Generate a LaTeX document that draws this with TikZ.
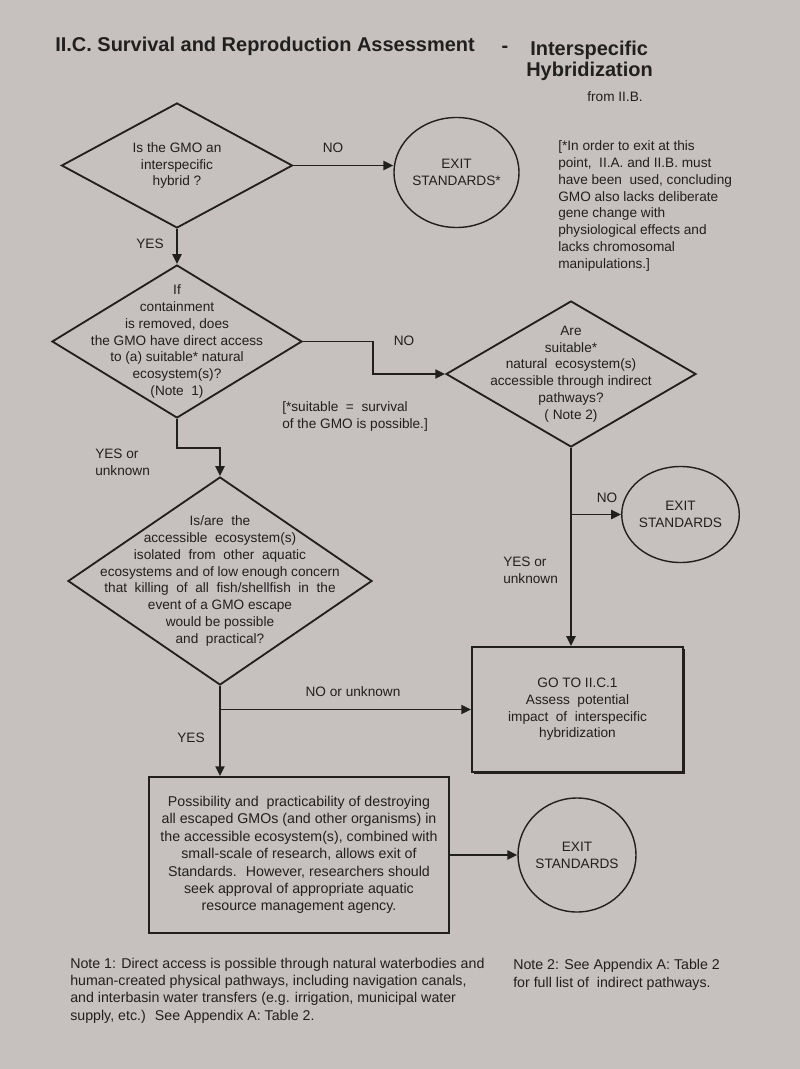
\documentclass[tikz,border=0pt]{standalone}
\usepackage{fontspec}
\setmainfont{Liberation Sans}
\usetikzlibrary{arrows.meta,shapes.geometric,shadows}

\definecolor{paper}{RGB}{198,193,191}
\definecolor{ink}{RGB}{34,31,31}

\begin{document}
\begin{tikzpicture}[
    x=0.025cm, y=-0.025cm,
    >={Triangle[length=7pt,width=6.5pt]},
    every node/.style={font=\fontsize{9.7}{11.9}\selectfont, text=ink},
    % title line
    title/.style={font=\fontsize{14.2}{17}\selectfont\bfseries, inner sep=0pt},
    % decision diamond (outline only)
    ask/.style={
        draw=ink, shape=diamond, line width=1.3pt, inner sep=0pt
    },
    % text inside a diamond
    asktext/.style={align=center, inner sep=0pt},
    % exit bubble
    exitnode/.style={
        draw=ink, shape=ellipse, line width=1pt, align=center, inner sep=0pt
    },
    % action box
    act/.style={
        draw=ink, line width=1.3pt, align=center, fill=paper, inner sep=0pt
    },
    % yes / no labels and side notes
    tag/.style={inner sep=0pt},
    remark/.style={align=left, inner sep=0pt, anchor=west},
    wide/.style={font=\fontsize{10.1}{12.4}\selectfont},
    % connectors
    flow/.style={->, draw=ink, line width=1.3pt},
]
\def\px{0.025cm}

%% -- page -------------------------------------------------
\path[use as bounding box, fill=paper] (0,0) rectangle (800,1069);

%% -- title ------------------------------------------------
\node[title, anchor=base west] (ttl) at (55,52) {II.C. Survival and Reproduction Assessment};
\node[title] (dash) at (505,49) {-};
\node[title, anchor=base west] (sub1) at (530,56) {Interspecific};
\node[title, anchor=base west] (sub2) at (526,77) {Hybridization};
\node[tag] (from) at (615,97) {from II.B.};

%% -- first question ---------------------------------------
\node[ask, minimum width=231*\px, minimum height=125*\px] (d1) at (177,165.5) {};
\node[asktext] (d1t) at (d1.center) {Is the GMO an\\interspecific\\hybrid ?};

\node[exitnode, minimum width=114*\px, minimum height=110*\px] (c1) at (456.5,172.5)
    {EXIT\\STANDARDS*};

\node[remark] (n1) at (558,206)
    {[*In order to exit at this\\point, \ II.A. and II.B. must\\have been \ used, concluding\\GMO also lacks deliberate\\gene change with\\physiological effects and\\lacks chromosomal\\manipulations.]};

%% -- direct access ----------------------------------------
\node[ask, minimum width=250*\px, minimum height=153*\px] (d2) at (177,341.5) {};
\node[asktext] (d2t) at (d2.center)
    {If\\containment\\is removed, does\\the GMO have direct access\\to (a) suitable* natural\\ecosystem(s)?\\(Note \ 1)};

\node[remark] (n2) at (282,416.5) {[*suitable \ = \ survival\\of the GMO is possible.]};

%% -- indirect access --------------------------------------
\node[ask, minimum width=250*\px, minimum height=146*\px] (d3) at (571,374) {};
\node[asktext] (d3t) at (d3.center)
    {Are\\suitable*\\natural \ ecosystem(s)\\accessible through indirect\\pathways?\\( Note 2)};

\node[exitnode, minimum width=105*\px, minimum height=96*\px] (c2) at (680.5,514.5)
    {EXIT\\STANDARDS};

%% -- isolation --------------------------------------------
\node[ask, minimum width=304*\px, minimum height=208*\px] (d4) at (220,581) {};
\node[asktext] (d4t) at (d4.center)
    {Is/are \ the\\accessible \ ecosystem(s)\\isolated \ from \ other \ aquatic\\ecosystems and of low enough concern\\that \ killing \ of \ all \ fish/shellfish \ in \ the\\event of a GMO escape\\would be possible\\and \ practical?};

%% -- outcomes ---------------------------------------------
\node[act, minimum width=211*\px, minimum height=125*\px,
      drop shadow={shadow xshift=1.3pt, shadow yshift=-1.3pt, opacity=1, fill=ink}]
    (b4) at (577.5,709.5)
    {GO TO II.C.1\\Assess \ potential\\impact \ of \ interspecific\\hybridization};

\node[act, wide, minimum width=300*\px, minimum height=156*\px] (b5) at (299,855)
    {Possibility and \ practicability of destroying\\all escaped GMOs (and other organisms) in\\the accessible ecosystem(s), combined with\\small-scale of research, allows exit of\\Standards. \ However, researchers should\\seek approval of appropriate aquatic\\resource management agency.};

\node[exitnode, minimum width=118*\px, minimum height=114*\px] (c3) at (577,855)
    {EXIT\\STANDARDS};

%% -- connectors -------------------------------------------
\coordinate (k1) at (373,341.5);  % bend of the NO line
\coordinate (k2) at (177,448);    % bend of the YES line

\draw[flow] (d1.east) -- (d1.east -| c1.west);
\draw[flow] (d1.south) -- (d2.north);
\draw[flow] (d2.east) -- (k1) |- (d3.west);
\draw[flow] (d2.south) -- (k2) -| (d4.north);
\draw[flow] (d3.south) -- (d3.south |- b4.north);
\draw[flow] (d3.south |- c2.west) -- (c2.west);
\draw[flow] (d4.south) -- (d4.south |- b5.north);
\draw[flow] (d4.south |- b4.west) -- (b4.west);
\draw[flow] (b5.east) -- (c3.west);

%% -- branch labels ----------------------------------------
\node[tag] (no1)  at (333,148) {NO};
\node[tag] (yes1) at (150,244) {YES};
\node[tag] (no2)  at (404,341) {NO};
\node[remark] (yes2) at (95,462) {YES or\\unknown};
\node[tag] (no3)  at (607,498) {NO};
\node[remark] (yes3) at (503,570) {YES or\\unknown};
\node[tag] (no4)  at (353,692) {NO or unknown};
\node[tag] (yes4) at (191,738) {YES};

%% -- footnotes --------------------------------------------
\node[remark, wide] (f1) at (70,990.5)
    {Note 1: Direct access is possible through natural waterbodies and\\human-created physical pathways, including navigation canals,\\and interbasin water transfers (e.g. irrigation, municipal water\\supply, etc.) \ See Appendix A: Table 2.};
\node[remark, wide] (f2) at (513,975)
    {Note 2: See Appendix A: Table 2\\for full list of \ indirect pathways.};

\end{tikzpicture}
\end{document}
